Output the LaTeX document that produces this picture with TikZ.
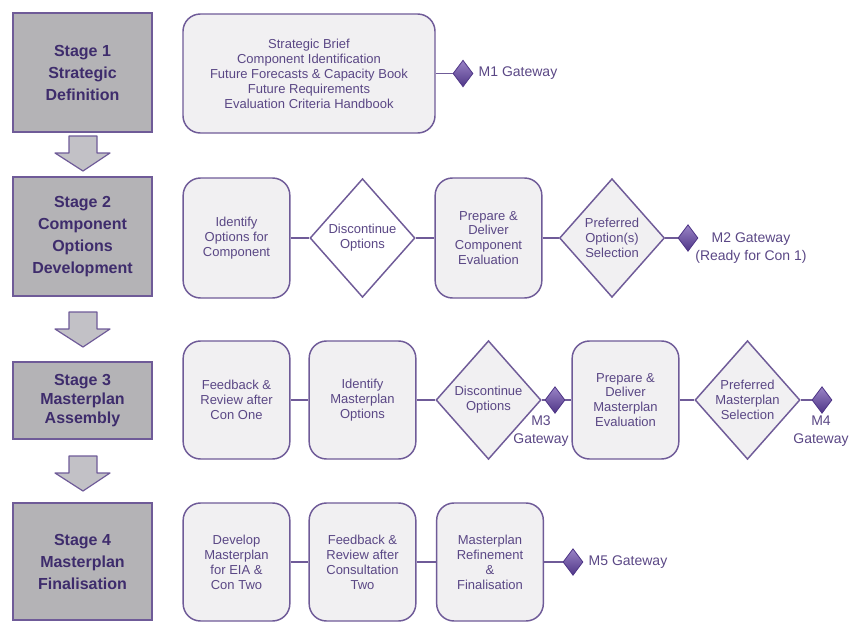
\documentclass[tikz,border=0pt]{standalone}
\usepackage{fontspec}
\setmainfont{Liberation Sans}
\usetikzlibrary{shapes.geometric}

\definecolor{plum}{HTML}{6F5B98}
\definecolor{plumtext}{HTML}{5A4785}
\definecolor{stagetext}{HTML}{3E2C6C}
\definecolor{stagegray}{HTML}{B4B3B6}
\definecolor{boxgray}{HTML}{F1F0F2}
\definecolor{arrowgray}{HTML}{C2C1C6}
\definecolor{gatetop}{HTML}{9A84C6}
\definecolor{gatebottom}{HTML}{4F3687}

% block arrow between two stages, #1 = top of the shaft
\newcommand{\stagearrow}[1]{%
  \filldraw[fill=arrowgray, draw=plum, line width=0.9pt, line join=round]
    (69,#1) -- (97,#1) -- (97,#1+17) -- (110,#1+17) -- (83,#1+35)
    -- (55,#1+17) -- (69,#1+17) -- cycle;}

\begin{document}
\begin{tikzpicture}[
        x=0.75pt, y=-0.75pt,
        every node/.style={align=center, text=plumtext, font=\fontsize{9.75pt}{11.2pt}\selectfont},
        stage/.style={rectangle, draw=plum, line width=1.5pt, fill=stagegray, minimum width=104pt, minimum height=89pt,
                      text=stagetext, font=\fontsize{12pt}{16.5pt}\selectfont\bfseries},
        task/.style={rectangle, rounded corners=13pt, draw=plum, line width=1.1pt, fill=boxgray,
                     minimum width=80pt, minimum height=88.5pt},
        choice/.style={diamond, draw=plum, line width=1.1pt, fill=boxgray, inner sep=0pt,
                       minimum width=78.75pt, minimum height=89pt},
        gate/.style={diamond, draw=gatebottom, line width=0.6pt, inner sep=0pt, minimum width=15pt, minimum height=20pt,
                     top color=gatetop, bottom color=gatebottom},
        gatetext/.style={font=\fontsize{10.5pt}{13.5pt}\selectfont},
        link/.style={draw=plum, line width=1.1pt}
        ]
        \useasboundingbox (0,0) rectangle (851,622);

        % stages
        \node[stage] (s1) at (82.5,72.5) {Stage 1\\Strategic\\Definition};
        \node[stage] (s2) at (82.5,236.5) {Stage 2\\Component\\Options\\Development};
        \node[stage, minimum height=57.75pt, inner sep=1pt, font=\fontsize{12pt}{14pt}\selectfont\bfseries] (s3) at (82.5,400.5)
            {Stage 3\\Masterplan\\Assembly};
        \node[stage, minimum height=87.75pt] (s4) at (82.5,561.5) {Stage 4\\Masterplan\\Finalisation};

        \stagearrow{136}
        \stagearrow{312}
        \stagearrow{456}

        % stage 1
        \node[task, minimum width=189pt, minimum height=89.25pt] (brief) at (309,73.5)
            {Strategic Brief\\Component Identification\\Future Forecasts \& Capacity Book\\Future Requirements\\Evaluation Criteria Handbook};
        \node[gate] (m1) at (463,73.5) {};
        \node[gatetext, anchor=west] (m1t) at (474,73.5) {M1 Gateway};
        \draw[link] (brief) -- (m1);

        % stage 2
        \node[task, minimum height=90pt] (options) at (236.5,238) {Identify\\Options for\\Component};
        \node[choice, fill=white] (discard) at (362.5,238) {Discontinue\\Options};
        \node[task, minimum height=90pt] (compeval) at (488.5,238) {Prepare \&\\Deliver\\Component\\Evaluation};
        \node[choice] (prefopt) at (612,238) {Preferred\\Option(s)\\Selection};
        \node[gate] (m2) at (688,238) {};
        \node[gatetext] (m2t) at (751,248) {M2 Gateway\\(Ready for Con 1)};
        \draw[link] (options) -- (discard) -- (compeval) -- (prefopt) -- (m2);

        % stage 3
        \node[task] (conone) at (236.5,400) {Feedback \&\\Review after\\Con One};
        \node[task] (mpoptions) at (362.5,400) {Identify\\Masterplan\\Options};
        \node[choice] (mpdiscard) at (488.5,400) {Discontinue\\Options};
        \node[gate] (m3) at (555,400) {};
        \node[gatetext] (m3t) at (541,431) {M3\\Gateway};
        \node[task] (mpeval) at (625.5,400) {Prepare \&\\Deliver\\Masterplan\\Evaluation};
        \node[choice] (prefmp) at (747.5,400) {Preferred\\Masterplan\\Selection};
        \node[gate] (m4) at (822,400) {};
        \node[gatetext] (m4t) at (821,431) {M4\\Gateway};
        \draw[link] (conone) -- (mpoptions) -- (mpdiscard) -- (m3) -- (mpeval) -- (prefmp) -- (m4);

        % stage 4
        \node[task] (eia) at (236.5,562) {Develop\\Masterplan\\for EIA \&\\Con Two};
        \node[task] (contwo) at (362.5,562) {Feedback \&\\Review after\\Consultation\\Two};
        \node[task] (refine) at (490,562) {Masterplan\\Refinement\\\&\\Finalisation};
        \node[gate] (m5) at (573,562) {};
        \node[gatetext, anchor=west] (m5t) at (584,562) {M5 Gateway};
        \draw[link] (eia) -- (contwo) -- (refine) -- (m5);
    \end{tikzpicture}
\end{document}
